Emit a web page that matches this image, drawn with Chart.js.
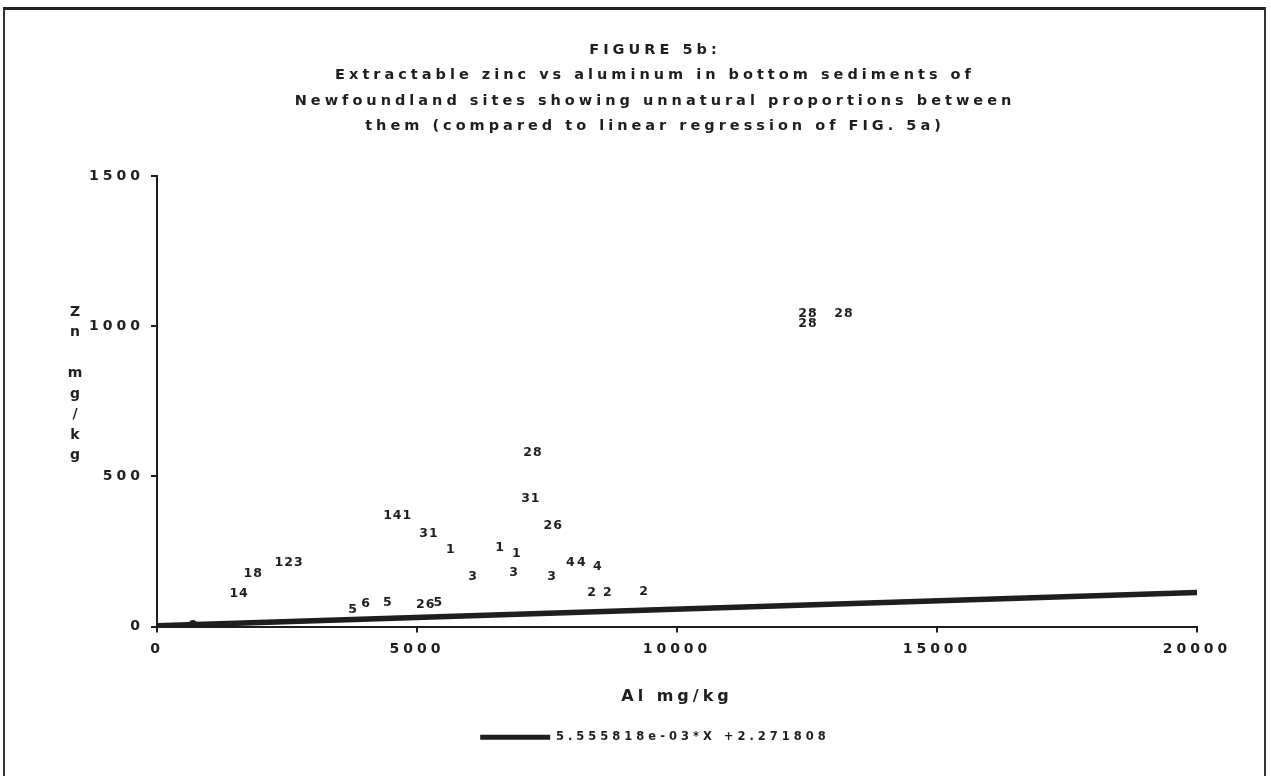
<!DOCTYPE html>
<html>
<head>
<meta charset="utf-8">
<script src="https://cdn.jsdelivr.net/npm/chart.js@4.4.0/dist/chart.umd.min.js"></script>
<style>
    html, body { margin: 0; padding: 0; background: #ffffff; }
    #frame {
        position: absolute; left: 3px; top: 7px; width: 1263px; height: 775px;
        border-top: 3px solid #222; border-left: 2px solid #333; border-right: 2px solid #333;
        box-sizing: border-box;
    }
    #wrap { position: absolute; left: 0; top: 0; width: 1271px; height: 776px; }
</style>
</head>
<body>
<div id="frame"></div>
<div id="wrap"><canvas id="myChart"></canvas></div>
<script>
// Site numbers plotted as markers, with Al (x) and Zn (y) in mg/kg
const siteLabels = ["14", "18", "123", "141", "31", "1", "3", "5", "6", "5", "26", "5",
                    "28", "31", "26", "1", "1", "3", "3", "4", "4", "4", "2", "2", "2",
                    "28", "28", "28"];
const alValues = [1560, 1830, 2520, 4610, 5210, 5630, 6060, 3750, 4000, 4420, 5150, 5390,
                  7210, 7170, 7600, 6580, 6900, 6850, 7580, 7940, 8150, 8460, 8350, 8650, 9350,
                  12500, 12500, 13190];
const znValues = [110, 177, 213, 370, 310, 257, 167, 57, 77, 80, 73, 80,
                  580, 427, 337, 263, 243, 180, 167, 213, 213, 200, 113, 113, 117,
                  1043, 1007, 1043];
// blob sitting on the line near the origin
const blobAl = [690];
const blobZn = [3];
// regression line of FIG. 5a
const regAl = [0, 20000];
const regZn = [2.3, 113.4];
const regLabel = "5.555818e-03*X +2.271808";

const titleLines = [
    "FIGURE 5b:",
    "Extractable zinc vs aluminum in bottom sediments of",
    "Newfoundland sites showing unnatural proportions between",
    "them (compared to linear regression of FIG. 5a)"
];
const xTitle = "Al mg/kg";
const yTitleChars = ["Z", "n", "", "m", "g", "/", "k", "g"];
const xTicks = [0, 5000, 10000, 15000, 20000];
const yTicks = [0, 500, 1000, 1500];

const ink = "#1e1e1e";
const face = '"DejaVu Sans", sans-serif';

// Old plotter look: spaced-out letters everywhere, site numbers as markers
const plotterText = {
    id: "plotterText",
    beforeUpdate(chart) { chart.ctx.letterSpacing = "4px"; },
    beforeDraw(chart) { chart.ctx.letterSpacing = "4px"; },
    afterDatasetsDraw(chart) {
        const ctx = chart.ctx;
        const meta = chart.getDatasetMeta(0);
        ctx.save();
        ctx.letterSpacing = "1px";
        ctx.font = "bold 12.5px " + face;
        ctx.fillStyle = ink;
        ctx.textAlign = "center";
        ctx.textBaseline = "middle";
        meta.data.forEach((pt, i) => {
            ctx.fillText(siteLabels[i], pt.x + 1, pt.y);
        });
        ctx.restore();
    },
    afterDraw(chart) {
        // stacked y axis title
        const ctx = chart.ctx;
        const area = chart.chartArea;
        ctx.save();
        ctx.letterSpacing = "0px";
        ctx.font = "bold 14px " + face;
        ctx.fillStyle = ink;
        ctx.textAlign = "center";
        ctx.textBaseline = "middle";
        yTitleChars.forEach((c, i) => {
            ctx.fillText(c, area.left - 82, area.top + 136 + i * 20.5);
        });
        ctx.restore();
    }
};

window.onload = function() {
    const ctx = document.getElementById("myChart");
    const points = alValues.map((x, i) => ({ x: x, y: znValues[i] }));
    const blob = blobAl.map((x, i) => ({ x: x, y: blobZn[i] }));
    const reg = regAl.map((x, i) => ({ x: x, y: regZn[i] }));

    new Chart(ctx, {
        type: "scatter",
        data: {
            datasets: [
                { label: "sites", data: points, pointRadius: 0, pointHoverRadius: 0 },
                { label: "blob", data: blob, pointRadius: 5, backgroundColor: ink, borderColor: ink },
                {
                    type: "line", label: regLabel, data: reg,
                    borderColor: ink, backgroundColor: ink, borderWidth: 5.5,
                    pointRadius: 0, fill: false
                }
            ]
        },
        plugins: [plotterText],
        options: {
            responsive: true,
            maintainAspectRatio: false,
            animation: false,
            layout: { padding: { left: 39, right: 0, top: 0, bottom: 23 } },
            plugins: {
                tooltip: { enabled: false },
                title: {
                    display: true,
                    text: titleLines,
                    color: ink,
                    font: { family: face, size: 14.5, weight: "bold", lineHeight: 1.76 },
                    padding: { top: 37, bottom: 37 }
                },
                legend: {
                    display: true,
                    position: "bottom",
                    labels: {
                        color: ink,
                        font: { family: face, size: 11.5, weight: "bold" },
                        boxWidth: 70,
                        boxHeight: 5,
                        padding: 25,
                        generateLabels(chart) {
                            const items = Chart.defaults.plugins.legend.labels.generateLabels(chart);
                            return items.filter(it => it.datasetIndex === 2)
                                        .map(it => Object.assign(it, { lineWidth: 0 }));
                        }
                    }
                }
            },
            scales: {
                x: {
                    type: "linear",
                    min: 0, max: 20000,
                    afterBuildTicks(scale) { scale.ticks = xTicks.map(v => ({ value: v })); },
                    afterFit(scale) { scale.height = 80; },
                    border: { display: true, color: ink, width: 2 },
                    grid: { drawOnChartArea: false, drawTicks: true, tickLength: 6, color: ink, lineWidth: 2 },
                    ticks: {
                        color: ink, padding: 8,
                        font: { family: face, size: 14, weight: "bold" },
                        maxRotation: 0,
                        callback: v => String(v)
                    },
                    title: {
                        display: true, text: xTitle, color: ink,
                        font: { family: face, size: 16, weight: "bold" },
                        padding: { top: 0, bottom: 0 }
                    }
                },
                y: {
                    type: "linear",
                    min: 0, max: 1500,
                    afterBuildTicks(scale) { scale.ticks = yTicks.map(v => ({ value: v })); },
                    afterFit(scale) { scale.width = 118; },
                    border: { display: true, color: ink, width: 2 },
                    grid: { drawOnChartArea: false, drawTicks: true, tickLength: 6, color: ink, lineWidth: 2 },
                    ticks: {
                        color: ink, padding: 7,
                        font: { family: face, size: 14, weight: "bold" },
                        callback: v => String(v)
                    }
                },
                // empty right-hand spacer so the plot ends at 20000 while the title stays centred
                yRight: {
                    type: "linear",
                    position: "right",
                    min: 0, max: 1,
                    afterFit(scale) { scale.width = 74; },
                    border: { display: false },
                    grid: { display: false },
                    ticks: { display: false }
                }
            }
        }
    });
};
</script>
</body>
</html>
